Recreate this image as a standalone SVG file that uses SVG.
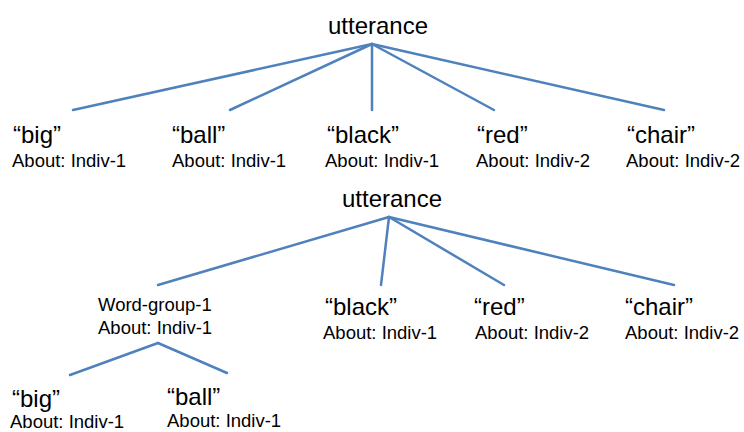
<svg xmlns="http://www.w3.org/2000/svg" width="744" height="432" viewBox="0 0 744 432">
<style>
.big{font-family:"Liberation Sans",Arial,sans-serif;font-size:24px;fill:#000}
.sm{font-family:"Liberation Sans",Arial,sans-serif;font-size:18.5px;fill:#000}
.e{stroke:#4f81bd;stroke-width:2.5;fill:none;stroke-linecap:round}
</style>
<rect width="744" height="432" fill="#fff"/>
<g id="connectors">
<line class="e" x1="372" y1="44" x2="73" y2="110"/>
<line class="e" x1="372" y1="44" x2="230" y2="110"/>
<line class="e" x1="372" y1="44" x2="372" y2="110"/>
<line class="e" x1="372" y1="44" x2="494" y2="110"/>
<line class="e" x1="372" y1="44" x2="664" y2="110"/>
<line class="e" x1="389" y1="217" x2="158" y2="285"/>
<line class="e" x1="389" y1="217" x2="381" y2="285"/>
<line class="e" x1="389" y1="217" x2="504" y2="285"/>
<line class="e" x1="389" y1="217" x2="674" y2="285"/>
<line class="e" x1="158" y1="343" x2="70" y2="375"/>
<line class="e" x1="158" y1="343" x2="227" y2="373"/>
</g>
<g id="utt1"><text class="big" x="378" y="34" text-anchor="middle">utterance</text></g>
<g id="t-big"><text class="big" x="13" y="143">“big”</text><text class="sm" x="12" y="167">About: Indiv-1</text></g>
<g id="t-ball"><text class="big" x="172" y="143">“ball”</text><text class="sm" x="172" y="167">About: Indiv-1</text></g>
<g id="t-black"><text class="big" x="327" y="143">“black”</text><text class="sm" x="325" y="167">About: Indiv-1</text></g>
<g id="t-red"><text class="big" x="477" y="143">“red”</text><text class="sm" x="476" y="167">About: Indiv-2</text></g>
<g id="t-chair"><text class="big" x="627" y="143">“chair”</text><text class="sm" x="626" y="167">About: Indiv-2</text></g>
<g id="utt2"><text class="big" x="392" y="207" text-anchor="middle">utterance</text></g>
<g id="wg"><text class="sm" x="98" y="311">Word-group-1</text><text class="sm" x="98" y="334">About: Indiv-1</text></g>
<g id="b-black"><text class="big" x="325" y="315">“black”</text><text class="sm" x="323" y="339">About: Indiv-1</text></g>
<g id="b-red"><text class="big" x="474" y="315">“red”</text><text class="sm" x="475" y="339">About: Indiv-2</text></g>
<g id="b-chair"><text class="big" x="625" y="315">“chair”</text><text class="sm" x="625" y="339">About: Indiv-2</text></g>
<g id="b-big"><text class="big" x="12" y="407">“big”</text><text class="sm" x="10" y="428">About: Indiv-1</text></g>
<g id="b-ball"><text class="big" x="167" y="405">“ball”</text><text class="sm" x="167" y="427">About: Indiv-1</text></g>
</svg>
